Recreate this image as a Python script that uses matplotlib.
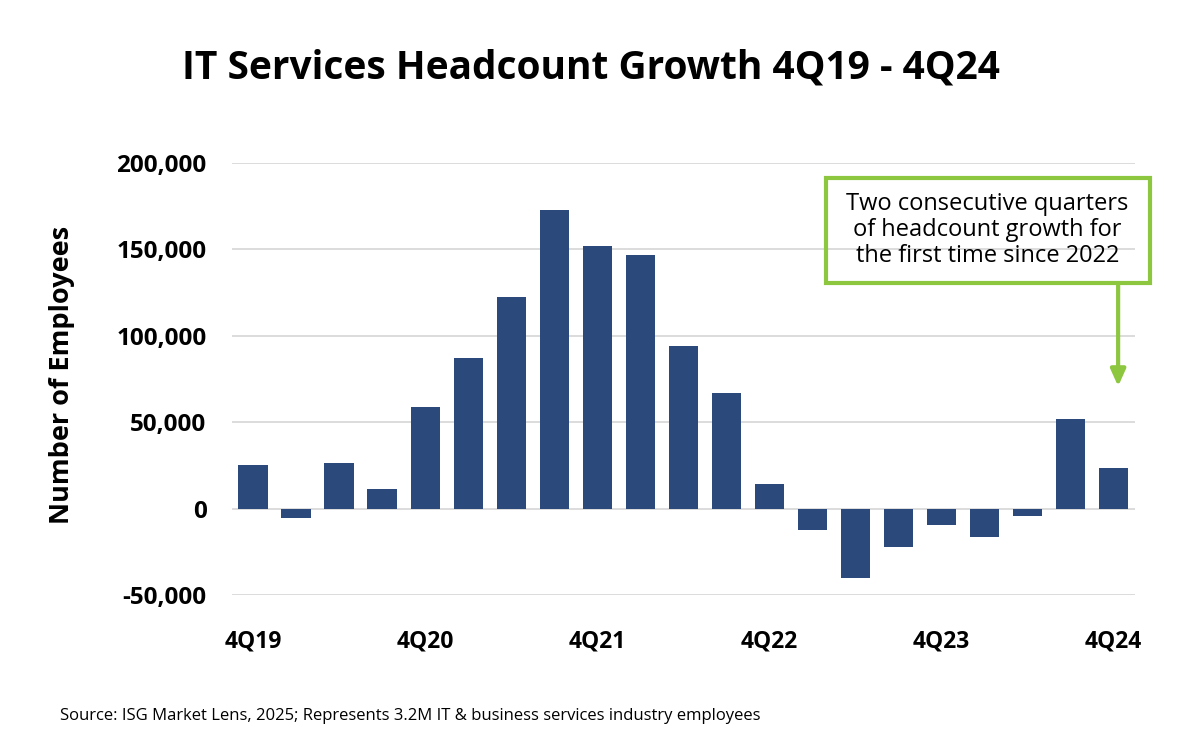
import numpy as np
import matplotlib
matplotlib.use('Agg')
import matplotlib.pyplot as plt
from matplotlib.patches import Rectangle

plt.rcParams['font.family'] = ['Open Sans', 'DejaVu Sans']

quarters = ['4Q19', '1Q20', '2Q20', '3Q20', '4Q20', '1Q21', '2Q21', '3Q21', '4Q21',
            '1Q22', '2Q22', '3Q22', '4Q22', '1Q23', '2Q23', '3Q23', '4Q23',
            '1Q24', '2Q24', '3Q24', '4Q24']
growth = [25000, -5400, 26600, 11400, 58700, 87000, 122700, 172900, 151900,
          146700, 93800, 66900, 14500, -12200, -39900, -22100, -9700,
          -16500, -4500, 51700, 23400]
yticks = [-50000, 0, 50000, 100000, 150000, 200000]
shown = ['4Q19', '4Q20', '4Q21', '4Q22', '4Q23', '4Q24']
note = 'Two consecutive quarters\nof headcount growth for\nthe first time since 2022'

navy = '#2B4A7B'
green = '#8DC63F'

fig = plt.figure(figsize=(12.01, 7.5), dpi=100)
ax = fig.add_axes([0.1928, 0.2067, 0.7522, 0.576])

x = np.arange(len(quarters))
ax.bar(x, growth, width=0.68, color=navy, zorder=3)

ax.set_xlim(-0.5, len(quarters) - 0.5)
ax.set_ylim(yticks[0], yticks[-1])
ax.set_yticks(yticks)
ax.set_yticklabels(['{:,}'.format(v) for v in yticks], fontsize=17.5, fontweight='bold')
idx = [quarters.index(q) for q in shown]
ax.set_xticks(idx)
ax.set_xticklabels(shown, fontsize=16.5, fontweight='bold')
ax.tick_params(axis='both', length=0)
ax.tick_params(axis='y', pad=18)
ax.tick_params(axis='x', pad=25)
ax.grid(axis='y', color='#D9D9D9', lw=1.3, zorder=0)
for s in ax.spines.values():
    s.set_visible(False)

fig.text(0.492, 0.909, 'IT Services Headcount Growth 4Q19 - 4Q24', ha='center', va='center',
         fontsize=28, fontweight='bold')
fig.text(0.052, 0.5, 'Number of Employees', rotation=90, ha='center', va='center',
         fontsize=19.5, fontweight='bold')
fig.text(0.05, 0.045, 'Source: ISG Market Lens, 2025; Represents 3.2M IT & business services industry employees',
         ha='left', va='center', fontsize=12)

# callout box + arrow
fig.patches.append(Rectangle((0.688, 0.6227), 0.2698, 0.14, transform=fig.transFigure,
                             fill=False, edgecolor=green, lw=3))
fig.text(0.822, 0.693, note, ha='center', va='center', fontsize=17, linespacing=1.12)
ax.annotate('', xy=(0.931, 0.485), xycoords='figure fraction',
            xytext=(0.931, 0.6227), textcoords='figure fraction',
            arrowprops=dict(arrowstyle='-|>,head_width=0.45,head_length=1.0',
                            color=green, lw=3, shrinkA=0, shrinkB=0))

fig.savefig('out.png', dpi=100)
